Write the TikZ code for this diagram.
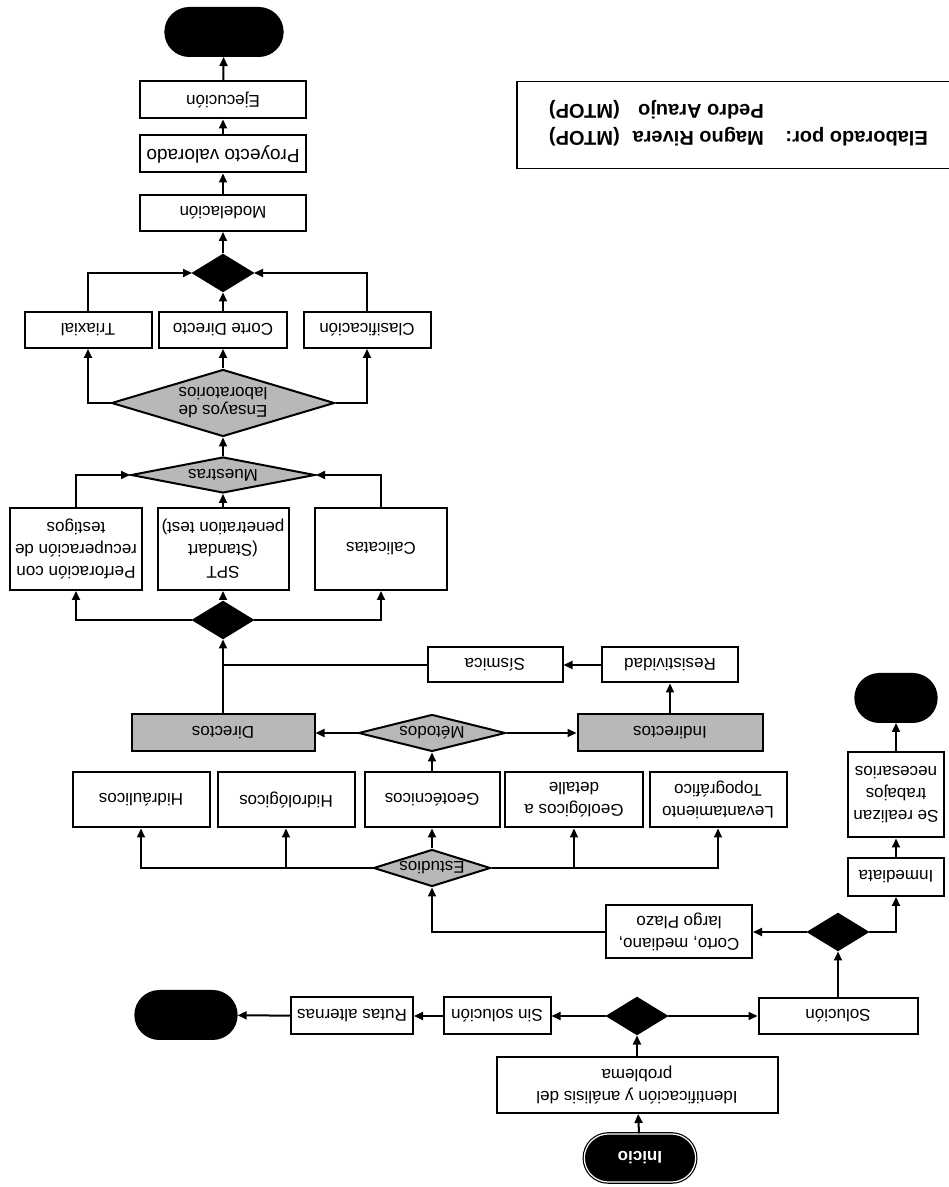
\documentclass[tikz,border=0pt]{standalone}
\usepackage{fontspec}
\setmainfont{Liberation Sans}
\usetikzlibrary{shapes.geometric, shapes.misc, arrows.meta}

\begin{document}
\begin{tikzpicture}[x=1pt, y=1pt, font=\fontsize{17}{22}\selectfont,
    box/.style={draw, line width=2pt, fill=white, align=center, inner sep=1pt},
    gris/.style={box, fill=black!28},
    terminal/.style={rounded rectangle, draw, line width=2pt, fill=black,
      minimum width=#1, minimum height=48pt},
    decision/.style={diamond, draw, line width=2pt, fill=black, inner sep=0pt,
      minimum width=60pt, minimum height=37pt},
    pregunta/.style={diamond, draw, line width=2pt, fill=black!28, inner sep=0pt,
      align=center, font=\fontsize{17}{18}\selectfont},
    autor/.style={font=\fontsize{20}{24}\selectfont\bfseries, anchor=west, inner sep=0pt},
    arrow/.style={-{Triangle[length=9pt, width=8pt]}, line width=2pt},
    linea/.style={line width=2pt}]
  \fill[white] (0,0) rectangle (949,1187);
  \clip (0,0) rectangle (949,1187);
  \begin{scope}[rotate around={180:(474.5,593.5)}, transform shape]
  \node[terminal=118, double=white, double distance=1.2pt, line width=1.2pt,
    text=white, font=\fontsize{17}{22}\selectfont\bfseries] (inicio) at (309,1158) {Inicio};
  \node[box, minimum width=281, minimum height=56] (ident) at (312,1085)
    {Identificación y análisis del\\problema};
  \node[decision] (d1) at (312,1016) {};
  \node[box, minimum width=159, minimum height=36] (solucion) at (111,1016) {Solución};
  \node[box, minimum width=107, minimum height=37] (sinsol) at (452,1016) {Sin solución};
  \node[box, minimum width=122, minimum height=37] (rutas) at (597,1016) {Rutas alternas};
  \node[terminal=108] (fin1) at (763,1015) {};
  \node[decision] (d2) at (111,932) {};
  \node[box, minimum width=146, minimum height=53] (corto) at (270,932)
    {Corto, mediano,\\largo Plazo};
  \node[box, minimum width=96, minimum height=38] (inmediata) at (53,877) {Inmediata};
  \node[box, minimum width=96, minimum height=85] (realizan) at (53,795)
    {Se realizan\\trabajos\\necesarios};
  \node[terminal=88] (fin2) at (53,698) {};
  \node[pregunta, aspect=3.2, minimum width=117, minimum height=37] (estudios) at (517,868) {Estudios};
  \node[box, minimum width=137, minimum height=55] (hidraulicos) at (808,800) {Hidráulicos};
  \node[box, minimum width=137, minimum height=55] (hidrologicos) at (663,800) {Hidrológicos};
  \node[box, minimum width=135, minimum height=55] (geotec) at (517,800) {Geotécnicos};
  \node[box, minimum width=138, minimum height=55] (geologicos) at (375,800) {Geológicos a\\detalle};
  \node[box, minimum width=137, minimum height=55] (levantamiento) at (231,800)
    {Levantamiento\\Topográfico};
  \node[pregunta, aspect=4, minimum width=147, minimum height=37] (metodos) at (517,733) {Métodos};
  \node[gris, minimum width=183, minimum height=37] (directos) at (726,733) {Directos};
  \node[gris, minimum width=185, minimum height=37] (indirectos) at (279,733) {Indirectos};
  \node[box, minimum width=136, minimum height=35] (resistividad) at (279,665) {Resistividad};
  \node[box, minimum width=135, minimum height=35] (sismica) at (454,665) {Sísmica};
  \node[decision] (d3) at (726,620) {};
  \coordinate (union) at (d3 |- sismica);
  \node[box, minimum width=132, minimum height=82] (perforacion) at (873,549)
    {Perforación con\\recuperación de\\testigos};
  \node[box, minimum width=131, minimum height=82] (spt) at (726,549)
    {SPT\\(Standart\\penetration test)};
  \node[box, minimum width=132, minimum height=82] (calicatas) at (568,549) {Calicatas};
  \node[pregunta, aspect=5, minimum width=184, minimum height=36] (muestras) at (726,475) {Muestras};
  \node[pregunta, aspect=3.3, minimum width=223, minimum height=67] (ensayos) at (726,403)
    {Ensayos de\\laboratorios};
  \node[box, minimum width=127, minimum height=36] (triaxial) at (861,330) {Triaxial};
  \node[box, minimum width=128, minimum height=36] (corte) at (726,330) {Corte Directo};
  \node[box, minimum width=127, minimum height=36] (clasif) at (582,330) {Clasificación};
  \node[decision] (d4) at (726,273) {};
  \node[box, minimum width=166, minimum height=36] (modelacion) at (726,213) {Modelación};
  \node[box, minimum width=166, minimum height=37, font=\fontsize{19}{22}\selectfont] (proyecto)
    at (726,154) {Proyecto valorado};
  \node[box, minimum width=166, minimum height=37] (ejecucion) at (726,100) {Ejecución};
  \node[terminal=124] (fin3) at (725,32) {};
  \node[draw, line width=1.5pt, minimum width=450, minimum height=87] (firma) at (207,125) {};
  \node[autor] (elab) at (21,137) {Elaborado por:};
  \node[autor] (magno) at (185,137) {Magno Rivera};
  \node[autor] (mtop1) at (329,137) {(MTOP)};
  \node[autor] (pedro) at (185,110) {Pedro Araujo};
  \node[autor] (mtop2) at (329,110) {(MTOP)};
  \draw[arrow] (inicio) -- (ident);
  \draw[arrow] (ident) -- (d1);
  \draw[arrow] (d1) -- (solucion);
  \draw[arrow] (d1) -- (sinsol);
  \draw[arrow] (sinsol) -- (rutas);
  \draw[arrow] (rutas) -- (fin1);
  \draw[arrow] (solucion) -- (d2);
  \draw[arrow] (d2.east) -- (corto);
  \draw[arrow] (d2.west) -| (inmediata);
  \draw[arrow] (inmediata) -- (realizan);
  \draw[arrow] (realizan) -- (fin2);
  \draw[arrow] (corto.east) -| (estudios);
  \draw[arrow] (estudios) -- (geotec);
  \draw[arrow] (estudios.east) -| (hidrologicos);
  \draw[arrow] (estudios.east) -| (hidraulicos);
  \draw[arrow] (estudios.west) -| (geologicos);
  \draw[arrow] (estudios.west) -| (levantamiento);
  \draw[arrow] (geotec) -- (metodos);
  \draw[arrow] (metodos.east) -- (directos);
  \draw[arrow] (metodos.west) -- (indirectos);
  \draw[arrow] (indirectos) -- (resistividad);
  \draw[arrow] (resistividad) -- (sismica);
  \draw[linea] (sismica.east) -- (union);
  \draw[arrow] (directos) -- (d3);
  \draw[arrow] (d3) -- (spt);
  \draw[arrow] (d3.east) -| (perforacion);
  \draw[arrow] (d3.west) -| (calicatas);
  \draw[arrow] (spt) -- (muestras);
  \draw[arrow] (perforacion) |- (muestras.east);
  \draw[arrow] (calicatas) |- (muestras.west);
  \draw[arrow] (muestras) -- (ensayos);
  \draw[arrow] (ensayos) -- (corte);
  \draw[arrow] (ensayos.east) -| (triaxial);
  \draw[arrow] (ensayos.west) -| (clasif);
  \draw[arrow] (corte) -- (d4);
  \draw[arrow] (triaxial) |- (d4.east);
  \draw[arrow] (clasif) |- (d4.west);
  \draw[arrow] (d4) -- (modelacion);
  \draw[arrow] (modelacion) -- (proyecto);
  \draw[arrow] (proyecto) -- (ejecucion);
  \draw[arrow] (ejecucion) -- (fin3);
  \end{scope}
\end{tikzpicture}
\end{document}
